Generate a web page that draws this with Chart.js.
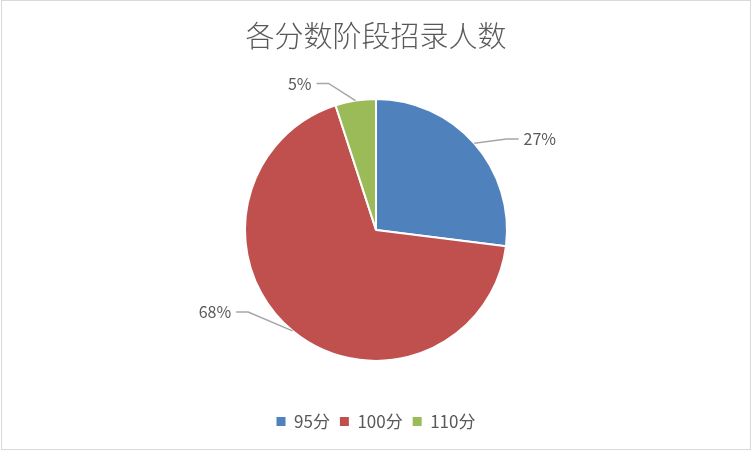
<!DOCTYPE html>
<html>
<head>
<meta charset="utf-8">
<script src="https://cdn.jsdelivr.net/npm/chart.js@4/dist/chart.umd.min.js"></script>
<style>
  html, body { margin: 0; padding: 0; background: #fff; }
  #wrap { width: 752px; height: 452px; position: relative; }
</style>
</head>
<body>
<div id="wrap"><canvas id="pie"></canvas></div>
<script>
// ======================================
// data
// ======================================
const categories = ["95分", "100分", "110分"];
const counts = [27, 68, 5];
const sliceColors = ["#4f81bd", "#c0504d", "#9bbb59"];

// where each % label sits: polar angle (deg) and distance in pie radii
const labelAngle = [-29, 153, -117.5];
const labelDist = [1.43, 1.38, 1.26];

const textColor = "#595959";
const fontFamily = "'Noto Sans CJK SC', 'Noto Sans', sans-serif";


// ======================================
// outside % labels with leader lines
// ======================================
const leaderLabels = {
    id: "leaderLabels",
    afterDatasetsDraw(chart) {
        const ctx = chart.ctx;
        const meta = chart.getDatasetMeta(0);
        const total = counts.reduce((a, b) => a + b, 0);

        ctx.save();
        ctx.font = "16px " + fontFamily;
        ctx.textBaseline = "middle";

        meta.data.forEach((arc, i) => {
            const { x, y, startAngle, endAngle, outerRadius } = arc.getProps(
                ["x", "y", "startAngle", "endAngle", "outerRadius"], true);
            const mid = (startAngle + endAngle) / 2;
            const ex = x + Math.cos(mid) * outerRadius;
            const ey = y + Math.sin(mid) * outerRadius;

            const a = labelAngle[i] * Math.PI / 180;
            const lx = x + Math.cos(a) * outerRadius * labelDist[i];
            const ly = y + Math.sin(a) * outerRadius * labelDist[i];

            const text = Math.round(counts[i] / total * 100) + "%";
            const w = ctx.measureText(text).width;
            const side = lx > x ? -1 : 1;            // toward the pie
            const px = lx + side * (w / 2 + 5);
            const kx = px + side * 12;

            ctx.strokeStyle = "#a6a6a6";
            ctx.lineWidth = 1.5;
            ctx.beginPath();
            ctx.moveTo(ex, ey);
            ctx.lineTo(kx, ly);
            ctx.lineTo(px, ly);
            ctx.stroke();

            ctx.fillStyle = textColor;
            ctx.textAlign = "center";
            ctx.fillText(text, lx, ly);
        });
        ctx.restore();
    },
    afterDraw(chart) {
        const ctx = chart.ctx;
        ctx.save();
        ctx.strokeStyle = "#d9d9d9";
        ctx.lineWidth = 1;
        ctx.strokeRect(1.5, 0.5, chart.width - 3, chart.height - 3);
        ctx.restore();
    }
};


new Chart(document.getElementById("pie"), {
    type: "pie",
    data: {
        labels: categories,
        datasets: [{
            data: counts,
            backgroundColor: sliceColors,
            borderColor: "#ffffff",
            borderWidth: 2,
            radius: 131
        }]
    },
    options: {
        responsive: true,
        maintainAspectRatio: false,
        animation: false,
        layout: { padding: { bottom: 12 } },
        plugins: {
            title: {
                display: true,
                text: "各分数阶段招录人数",
                color: textColor,
                font: { family: fontFamily, size: 29, weight: 300 },
                padding: { top: 19, bottom: 3 }
            },
            legend: {
                position: "bottom",
                labels: {
                    color: textColor,
                    font: { family: fontFamily, size: 17 },
                    boxWidth: 9,
                    boxHeight: 9,
                    padding: 10,
                    generateLabels(chart) {
                        const items = Chart.overrides.pie.plugins.legend.labels.generateLabels(chart);
                        items.forEach(it => { it.lineWidth = 0; it.strokeStyle = "transparent"; });
                        return items;
                    }
                }
            },
            tooltip: { enabled: false }
        }
    },
    plugins: [leaderLabels]
});
</script>
</body>
</html>
